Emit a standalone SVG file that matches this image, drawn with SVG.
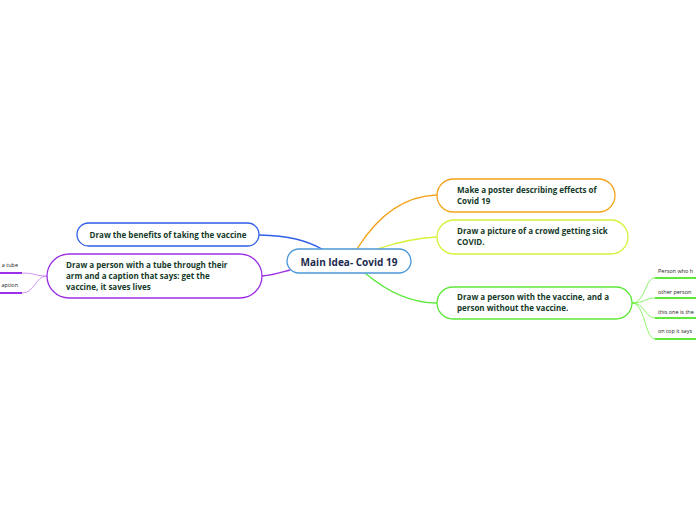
<svg xmlns="http://www.w3.org/2000/svg" width="696" height="520" viewBox="0 0 696 520">
<style>
.t{font-family:"Open Sans","Noto Sans",sans-serif;font-weight:bold;font-size:8px;fill:#143a28}
.s{font-family:"Open Sans","Noto Sans",sans-serif;font-size:5.5px;fill:#222}
.c{fill:none;stroke-width:1.3}
.b{fill:#fff;stroke-width:1.3}
</style>
<rect width="696" height="520" fill="#fff"/>
<g id="connectors">
<path class="c" stroke="#2f5fe8" d="M259,235 C290,236 305,240 322,249"/>
<path class="c" stroke="#9b30e8" d="M262,276 C275,275 282,272 290,270"/>
<path class="c" stroke="#f5a21a" d="M357,249 C375,220 400,196 437,195"/>
<path class="c" stroke="#d8f03a" d="M377,249 C395,243 415,238 437,237"/>
<path class="c" stroke="#5de83a" d="M365,273 C385,290 410,303 437,303"/>
<g stroke="#6cf040" fill="none" stroke-width="0.8">
<path d="M632,303 C645,303 645,278 655,278"/>
<path d="M632,303 C645,303 645,298 655,298"/>
<path d="M632,303 C645,303 645,318 655,318"/>
<path d="M632,303 C645,303 645,339 655,339"/>
</g>
<g stroke="#c57af0" fill="none" stroke-width="0.8">
<path d="M47,276 C35,276 35,273 22,273"/>
<path d="M47,276 C35,276 35,293 22,293"/>
</g>
</g>
<g id="main">
<rect class="b" x="287" y="249" width="124" height="24" rx="12" stroke="#4a98d8"/>
<text x="349" y="265.5" text-anchor="middle" font-family="Open Sans,Noto Sans,sans-serif" font-weight="bold" font-size="10" fill="#1c2a4d">Main Idea- Covid 19</text>
</g>
<g id="n1">
<rect class="b" x="437" y="179" width="178" height="33" rx="16.5" stroke="#f5a21a"/>
<text class="t" x="457" y="193">Make a poster describing effects of</text>
<text class="t" x="457" y="204">Covid 19</text>
</g>
<g id="n2">
<rect class="b" x="437" y="220" width="191" height="34" rx="17" stroke="#d8f03a"/>
<text class="t" x="457" y="234">Draw a picture of a crowd getting sick</text>
<text class="t" x="457" y="245">COVID.</text>
</g>
<g id="n3">
<rect class="b" x="437" y="287" width="195" height="32" rx="16" stroke="#5de83a"/>
<text class="t" x="457" y="300">Draw a person with the vaccine, and a</text>
<text class="t" x="457" y="311">person without the vaccine.</text>
</g>
<g id="n3a">
<text class="s" x="658" y="273">Person who h</text>
<line x1="655" y1="278" x2="696" y2="278" stroke="#5de83a" stroke-width="2"/>
</g>
<g id="n3b">
<text class="s" x="658" y="294">other person</text>
<line x1="655" y1="298" x2="696" y2="298" stroke="#5de83a" stroke-width="2"/>
</g>
<g id="n3c">
<text class="s" x="658" y="314">this one is the</text>
<line x1="655" y1="318" x2="696" y2="318" stroke="#5de83a" stroke-width="2"/>
</g>
<g id="n3d">
<text class="s" x="658" y="333">on top it says</text>
<line x1="655" y1="339" x2="696" y2="339" stroke="#5de83a" stroke-width="2"/>
</g>
<g id="n4">
<rect class="b" x="77" y="223" width="182" height="23" rx="11.5" stroke="#2f5fe8"/>
<text class="t" x="168" y="237.5" text-anchor="middle">Draw the benefits of taking the vaccine</text>
</g>
<g id="n5">
<rect class="b" x="47" y="254" width="215" height="44" rx="22" stroke="#9b30e8"/>
<text class="t" x="66" y="268">Draw a person with a tube through their</text>
<text class="t" x="66" y="279">arm and a caption that says: get the</text>
<text class="t" x="66" y="290">vaccine, it saves lives</text>
</g>
<g id="n5a">
<text class="s" x="18" y="267" text-anchor="end">a tube</text>
<line x1="0" y1="273" x2="22" y2="273" stroke="#9b30e8" stroke-width="2"/>
</g>
<g id="n5b">
<text class="s" x="18" y="287" text-anchor="end">aption</text>
<line x1="0" y1="293" x2="22" y2="293" stroke="#9b30e8" stroke-width="2"/>
</g>
</svg>
